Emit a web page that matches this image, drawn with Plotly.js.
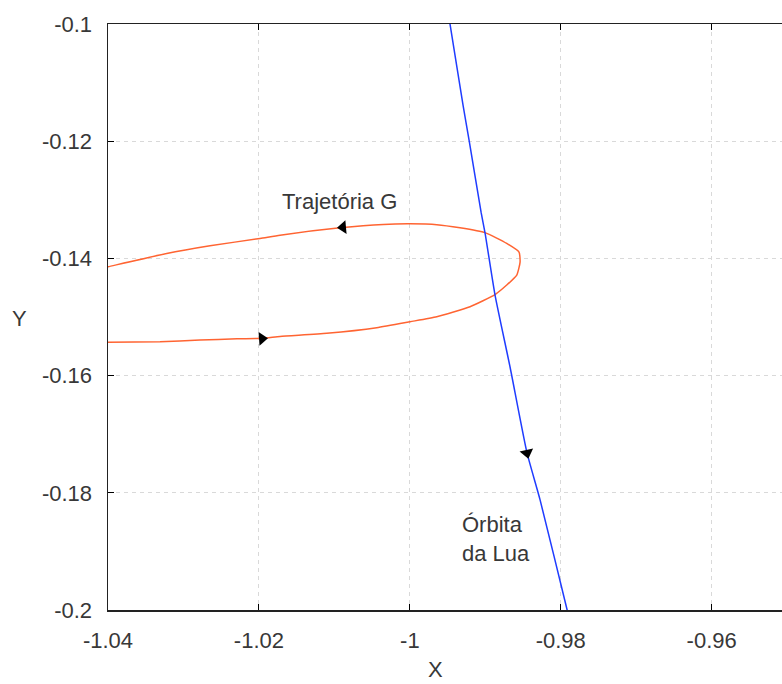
<!DOCTYPE html>
<html>
<head>
<meta charset="utf-8">
<script src="https://cdn.plot.ly/plotly-3.0.1.min.js"></script>
<style>
  html, body { margin: 0; padding: 0; background: #ffffff; }
  #chart { width: 782px; height: 684px; }
</style>
</head>
<body>
<div id="chart"></div>
<script>
// Trajectory G: loop passing close to the Moon, traversed lower branch first (left to right),
// then back along the upper branch.
const trajX = [-1.04106, -1.04000, -1.03311, -1.02781, -1.02290, -1.01959, -1.01720, -1.01101,
               -1.00439, -0.99997, -0.99643, -0.99202, -0.98871, -0.98716, -0.98583, -0.98539,
               -0.98553, -0.98716, -0.99003, -0.99335, -0.99643, -0.99997, -1.00351, -1.00925,
               -1.01720, -1.01985, -1.02648, -1.03222, -1.04000, -1.04106];
const trajY = [-0.15436, -0.15432, -0.15422, -0.15393, -0.15372, -0.15364, -0.15333, -0.15279,
               -0.15183, -0.15081, -0.14996, -0.14825, -0.14617, -0.14455, -0.14285, -0.14063,
               -0.13893, -0.13744, -0.13560, -0.13478, -0.13424, -0.13410, -0.13420, -0.13478,
               -0.13603, -0.13659, -0.13785, -0.13915, -0.14143, -0.14174];

// Moon's orbit segment, moving downward.
const moonX = [-0.99493, -0.99467, -0.99295, -0.99215, -0.99056, -0.99003, -0.98871, -0.98672,
               -0.98447, -0.98274, -0.97916, -0.97878];
const moonY = [-0.09800, -0.10005, -0.11386, -0.11983, -0.13211, -0.13569, -0.14626, -0.15853,
               -0.17320, -0.18121, -0.19996, -0.20200];

// Direction arrows (position and heading, degrees clockwise from up).
const arrowX = [-1.01959, -1.00886, -0.98447];
const arrowY = [-0.15370, -0.13470, -0.17320];
const arrowAngle = [86, 265, 167];

// Axis ticks and labels.
const xTickVals = [-1.04, -1.02, -1.00, -0.98, -0.96];
const xTickText = ['-1.04', '-1.02', '-1', '-0.98', '-0.96'];
const yTickVals = [-0.20, -0.18, -0.16, -0.14, -0.12, -0.10];
const yTickText = ['-0.2', '-0.18', '-0.16', '-0.14', '-0.12', '-0.1'];

const FONT = 'Liberation Sans, Arial, sans-serif';
const TEXT = '#383838';

const traces = [
  {
    x: trajX, y: trajY, type: 'scatter', mode: 'lines',
    line: { color: '#ff6432', width: 1.5, shape: 'spline', smoothing: 0.5 },
    hoverinfo: 'skip', name: 'Trajetória G'
  },
  {
    x: moonX, y: moonY, type: 'scatter', mode: 'lines',
    line: { color: '#1f3cff', width: 1.5, shape: 'spline', smoothing: 0.5 },
    hoverinfo: 'skip', name: 'Órbita da Lua'
  },
  {
    x: arrowX, y: arrowY, type: 'scatter', mode: 'markers',
    marker: { symbol: 'triangle-up', size: 12, color: '#000000', angle: arrowAngle,
              line: { width: 0 } },
    hoverinfo: 'skip', name: 'sentido'
  }
];

const axisCommon = {
  showline: true, linecolor: '#222222', linewidth: 1.5,
  ticks: 'inside', ticklen: 6, tickwidth: 1, tickcolor: '#000000',
  showgrid: true, gridcolor: '#d9d9d9', gridwidth: 1, griddash: '4px,4px',
  zeroline: false, tickmode: 'array',
  tickfont: { family: FONT, size: 22, color: TEXT },
  ticklabelstandoff: 10
};

const layout = {
  width: 782, height: 684,
  margin: { l: 108, r: 0, t: 24, b: 74 },
  paper_bgcolor: '#ffffff', plot_bgcolor: '#ffffff',
  showlegend: false,
  xaxis: Object.assign({}, axisCommon, {
    range: [-1.04, -0.95068], tickvals: xTickVals, ticktext: xTickText, mirror: 'ticks'
  }),
  yaxis: Object.assign({}, axisCommon, {
    range: [-0.2, -0.1], tickvals: yTickVals, ticktext: yTickText, mirror: false
  }),
  annotations: [
    { text: 'Trajetória G', x: -1.00938, y: -0.13023, xref: 'x', yref: 'y',
      showarrow: false, xanchor: 'center', yanchor: 'middle',
      font: { family: FONT, size: 22, color: TEXT } },
    { text: 'Órbita<br>da Lua', x: -0.99340, y: -0.18786, xref: 'x', yref: 'y',
      showarrow: false, xanchor: 'left', yanchor: 'middle', align: 'left',
      font: { family: FONT, size: 22, color: TEXT } },
    { text: 'X', x: 435, y: 669, xref: 'paper', yref: 'paper', showarrow: false,
      font: { family: FONT, size: 22, color: TEXT } },
    { text: 'Y', x: 19, y: 318, xref: 'paper', yref: 'paper', showarrow: false,
      font: { family: FONT, size: 22, color: TEXT } }
  ]
};

// Axis-label annotations are given in pixels above; convert to paper fractions.
const plotW = layout.width - layout.margin.l - layout.margin.r;
const plotH = layout.height - layout.margin.t - layout.margin.b;
layout.annotations.slice(2).forEach(a => {
  const px = a.x, py = a.y;
  a.x = (px - layout.margin.l) / plotW;
  a.y = (layout.height - layout.margin.b - py) / plotH;
  a.xanchor = 'center'; a.yanchor = 'middle';
});

Plotly.newPlot('chart', traces, layout, { displayModeBar: false, staticPlot: true });
</script>
</body>
</html>
